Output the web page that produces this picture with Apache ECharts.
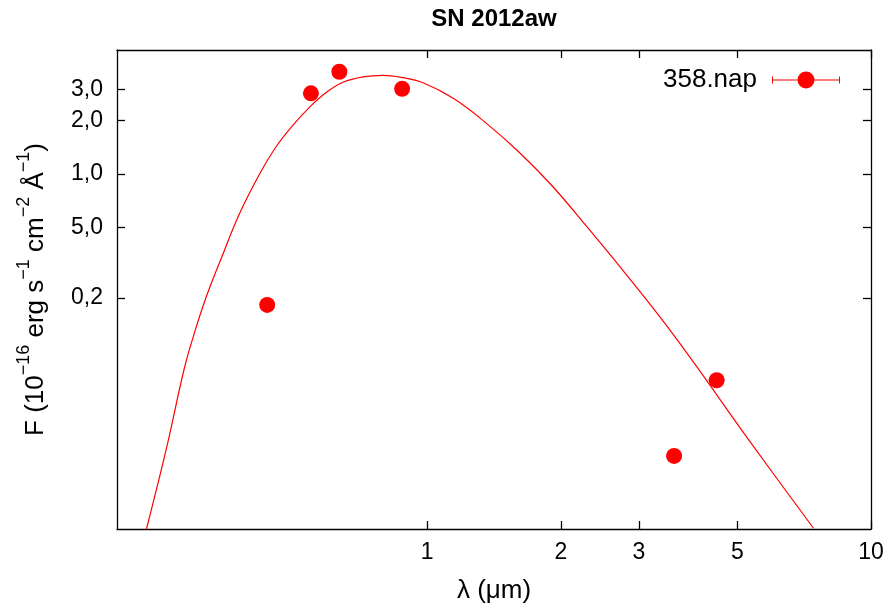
<!DOCTYPE html>
<html><head><meta charset="utf-8">
<script src="https://cdn.jsdelivr.net/npm/echarts@6/dist/echarts.min.js"></script>
<style>html,body{margin:0;padding:0;background:#fff}#c{width:891px;height:612px}</style>
</head><body><div id="c"></div>
<script>
const titleText = 'SN 2012aw';
const seriesName = '358.nap';
const obsWavelength = [0.436, 0.547, 0.634, 0.878, 3.60, 4.49];
const obsFlux = [0.183, 2.85, 3.77, 3.02, 0.0258, 0.0689];
const fitWavelength = [0.233, 0.258, 0.283, 0.297, 0.318, 0.347, 0.378, 0.420, 0.457, 0.499, 0.544, 0.593, 0.646, 0.717, 0.796, 0.883, 0.979, 1.145, 1.36, 1.62, 1.92, 2.29, 2.72, 3.59, 5.44, 7.42];
const fitFlux = [0.0100, 0.0279, 0.0787, 0.121, 0.204, 0.357, 0.601, 1.01, 1.43, 1.89, 2.39, 2.89, 3.29, 3.53, 3.60, 3.49, 3.27, 2.67, 1.93, 1.31, 0.848, 0.505, 0.300, 0.124, 0.0291, 0.0101];
const xTickValues = [1, 2, 3, 5, 10];
const xTickLabels = ['1', '2', '3', '5', '10'];
const yTickValues = [0.2, 0.5, 1, 2, 3];
const yTickLabels = ['0,2', '5,0', '1,0', '2,0', '3,0'];
const xName = 'λ (μm)';

const FONT = 'Liberation Sans, Arial, Helvetica, sans-serif';
const lookup = (vals, labs) => v => {
  for (let i = 0; i < vals.length; i++) if (Math.abs(vals[i] - v) < 1e-9 * Math.max(1, v)) return labs[i];
  return '';
};
const lineStyle = { color: '#000', width: 1.3 };
const chart = echarts.init(document.getElementById('c'), null, { renderer: 'canvas' });

const obsData = obsWavelength.map((x, i) => [x, obsFlux[i]]);
const fitData = fitWavelength.map((x, i) => [x, fitFlux[i]]);

const legendIcon = 'path://M0 5 H1 V8 H26 V9 H1 V12 H0 Z M42 8 H67 V5 H68 V12 H67 V9 H42 Z M25.5 8.5 A8.5 8.5 0 1 1 42.5 8.5 A8.5 8.5 0 1 1 25.5 8.5 Z';

function xAxisCfg(pos, showLabels) {
  return {
    type: 'log', logBase: 10, min: 0.2, max: 10, position: pos,
    axisLine: { show: true, onZero: false, lineStyle },
    axisTick: { show: true, inside: true, length: 8, customValues: xTickValues, lineStyle },
    axisLabel: { show: showLabels, customValues: xTickValues, formatter: lookup(xTickValues, xTickLabels),
      fontSize: 23, color: '#000', fontFamily: FONT, margin: 12 },
    minorTick: { show: false }, splitLine: { show: false },
    name: showLabels ? xName : '', nameLocation: 'middle', nameGap: 49,
    nameTextStyle: { fontSize: 26, color: '#000', fontFamily: FONT }
  };
}
function yAxisCfg(pos, showLabels) {
  return {
    type: 'log', logBase: 10, min: 0.01, max: 5, position: pos,
    axisLine: { show: true, onZero: false, lineStyle },
    axisTick: { show: true, inside: true, length: 8, customValues: yTickValues, lineStyle },
    axisLabel: { show: showLabels, customValues: yTickValues, formatter: lookup(yTickValues, yTickLabels),
      fontSize: 23, color: '#000', fontFamily: FONT, margin: 14 },
    minorTick: { show: false }, splitLine: { show: false },
    name: showLabels ? '{n|F (10}{s|−16}{n| erg s}{s|−1}{n| cm}{s|−2}{n| Å}{s|−1}{n|)}' : '',
    nameLocation: 'middle', nameGap: 60,
    nameTextStyle: {
      color: '#000', fontFamily: FONT,
      rich: {
        n: { fontSize: 26, lineHeight: 42, color: '#000', fontFamily: FONT },
        s: { fontSize: 18, verticalAlign: 'top', color: '#000', fontFamily: FONT }
      }
    }
  };
}

chart.setOption({
  backgroundColor: '#fff',
  animation: false,
  title: { text: titleText, left: 489, top: 2, textAlign: 'center',
    textStyle: { fontSize: 24, fontWeight: 'bold', color: '#000', fontFamily: FONT } },
  grid: { left: 117, right: 20, top: 50, bottom: 83, containLabel: false },
  legend: {
    data: [{ name: seriesName, icon: legendIcon }],
    right: 46, top: 62, align: 'right', itemWidth: 68, itemHeight: 17,
    textStyle: { fontSize: 26, color: '#000', fontFamily: FONT, padding: [0, 10, 0, 0] },
    selectedMode: false
  },
  xAxis: [xAxisCfg('bottom', true), xAxisCfg('top', false)],
  yAxis: [yAxisCfg('left', true), yAxisCfg('right', false)],
  series: [
    { type: 'line', name: 'fit', data: fitData, xAxisIndex: 0, yAxisIndex: 0,
      showSymbol: false, smooth: 0.4, clip: true, silent: true,
      lineStyle: { color: '#ff0000', width: 1.2 }, z: 2 },
    { type: 'scatter', name: seriesName, data: obsData, xAxisIndex: 0, yAxisIndex: 0,
      symbol: 'circle', symbolSize: 16, itemStyle: { color: '#ff0000', opacity: 1 }, z: 3 }
  ]
});
</script></body></html>
